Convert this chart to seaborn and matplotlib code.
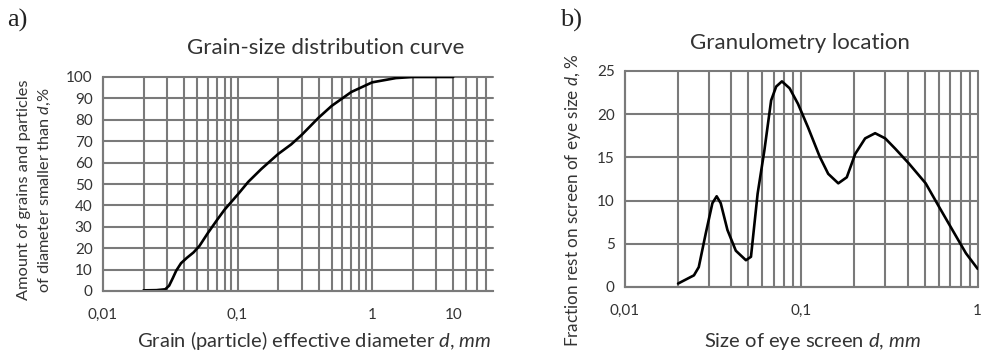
import numpy as np
import seaborn as sns
import matplotlib.pyplot as plt
from matplotlib.ticker import FixedLocator, LogLocator, NullFormatter

# a) grain-size distribution (cumulative)
grain_d = [0.02, 0.025, 0.029, 0.031, 0.033, 0.035, 0.038, 0.042, 0.047, 0.052,
           0.06, 0.07, 0.08, 0.1, 0.12, 0.15, 0.2, 0.25, 0.3, 0.4, 0.5, 0.7,
           1.0, 1.5, 2.0, 3.0, 4.0]
grain_pct = [0.3, 0.4, 0.8, 2.5, 6, 9.5, 13, 15.5, 18, 21,
             27, 33, 38, 45, 51, 57, 64, 68.5, 73, 81, 86.5, 93,
             97.5, 99.5, 100, 100, 100]

# b) granulometry (fraction rest on screen)
screen_d = [0.02, 0.0246, 0.0262, 0.0287, 0.0313, 0.0331, 0.0349, 0.0381, 0.0425,
            0.0485, 0.0518, 0.0565, 0.0617, 0.0674, 0.072, 0.0776, 0.0858, 0.0957,
            0.109, 0.127, 0.142, 0.162, 0.181, 0.202, 0.230, 0.262, 0.299, 0.341,
            0.407, 0.507, 0.603, 0.719, 0.858, 1.0]
fraction = [0.4, 1.35, 2.3, 6.2, 9.7, 10.5, 9.7, 6.6, 4.2,
            3.1, 3.5, 10.8, 15.8, 21.6, 23.2, 23.8, 23.0, 21.2,
            18.5, 15.1, 13.1, 12.0, 12.7, 15.4, 17.2, 17.8, 17.2, 16.0,
            14.3, 12.0, 9.3, 6.6, 3.9, 2.1]

left_ticks = [0.01, 0.1, 1, 4]
left_labels = ["0,01", "0,1", "1", "10"]
right_ticks = [0.01, 0.1, 1]
right_labels = ["0,01", "0,1", "1"]

sns.set_theme(style="white")
plt.rcParams["font.family"] = ["Lato", "DejaVu Sans"]
plt.rcParams["mathtext.fontset"] = "custom"
plt.rcParams["mathtext.rm"] = "Lato"
plt.rcParams["mathtext.it"] = "Lato:italic"

txt = "#333333"
grid_c = "#7a7a7a"

fig = plt.figure(figsize=(9.84, 3.58), dpi=100)
W, H = 984, 358


def px_axes(x0, x1, y_top, y_bot):
    return fig.add_axes([x0 / W, 1 - y_bot / H, (x1 - x0) / W, (y_bot - y_top) / H])


def style(ax, yticks):
    ax.set_xscale("log")
    ax.xaxis.set_minor_locator(LogLocator(base=10, subs=np.arange(2, 10)))
    ax.xaxis.set_minor_formatter(NullFormatter())
    ax.set_yticks(yticks)
    ax.grid(True, which="both", axis="x", color=grid_c, lw=1.5)
    ax.grid(True, which="major", axis="y", color=grid_c, lw=1.5)
    for s in ["top", "right"]:
        ax.spines[s].set_visible(False)
    for s in ["left", "bottom"]:
        ax.spines[s].set_color(grid_c)
        ax.spines[s].set_linewidth(1.5)
    ax.tick_params(axis="both", which="major", colors=grid_c, length=4,
                   width=1.3, labelcolor=txt, labelsize=11, direction="out")
    ax.tick_params(axis="x", which="minor", length=0)
    ax.tick_params(axis="x", which="major", pad=8)
    ax.set_xlabel("")
    ax.set_ylabel("")


ax1 = px_axes(103, 493, 77, 291)
sns.lineplot(x=grain_d, y=grain_pct, ax=ax1, color="black", lw=1.9)
style(ax1, np.arange(0, 101, 10))
ax1.set_xlim(0.01, 7.9)
ax1.set_ylim(0, 100)
ax1.xaxis.set_major_locator(FixedLocator(left_ticks))
ax1.set_xticklabels(left_labels)

ax2 = px_axes(625, 978, 71, 287)
sns.lineplot(x=screen_d, y=fraction, ax=ax2, color="black", lw=1.9)
style(ax2, np.arange(0, 26, 5))
ax2.set_xlim(0.01, 1.004)
ax2.set_ylim(0, 25)
ax2.xaxis.set_major_locator(FixedLocator(right_ticks))
ax2.set_xticklabels(right_labels)

for a in (ax1, ax2):
    for l in a.get_xgridlines() + a.get_ygridlines():
        l.set_clip_on(False)

# panel letters
fig.text(7 / W, 1 - 20 / H, "a)", family=["Liberation Serif"], fontsize=19,
         color="#222222", va="center", ha="left")
fig.text(560 / W, 1 - 20 / H, "b)", family=["Liberation Serif"], fontsize=19,
         color="#222222", va="center", ha="left")

# titles
fig.text(326 / W, 1 - 48 / H, "Grain-size distribution curve", fontsize=16,
         color=txt, ha="center", va="center")
fig.text(800 / W, 1 - 43 / H, "Granulometry location", fontsize=16,
         color=txt, ha="center", va="center")

# axis labels
fig.text(137 / W, 1 - 341 / H, "Grain (particle) effective diameter $d$, $mm$",
         fontsize=14.5, color=txt, ha="left", va="center")
fig.text(813 / W, 1 - 342 / H, "Size of eye screen $d$, $mm$",
         fontsize=14.5, color=txt, ha="center", va="center")
fig.text(35 / W, 1 - 190 / H,
         "Amount of grains and particles\nof diameter smaller than $d$,%",
         fontsize=11.8, color=txt, ha="center", va="center", rotation=90,
         linespacing=1.45)
fig.text(573 / W, 1 - 200 / H, "Fraction rest on screen of eye size $d$, %",
         fontsize=12.3, color=txt, ha="center", va="center", rotation=90)

fig.savefig("out.png", dpi=100)
